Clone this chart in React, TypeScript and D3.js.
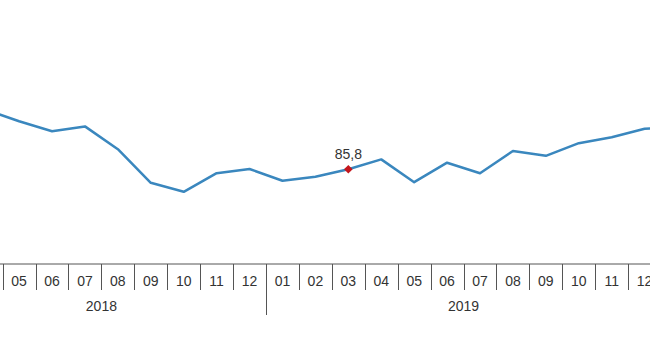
import { useEffect } from 'react';
import * as d3 from 'd3';

// month keys (year-month) and index values
const years = ['2018', '2019', '2020'];
const months = [
    '2018-03', '2018-04', '2018-05', '2018-06', '2018-07', '2018-08', '2018-09', '2018-10', '2018-11', '2018-12',
    '2019-01', '2019-02', '2019-03', '2019-04', '2019-05', '2019-06', '2019-07', '2019-08', '2019-09', '2019-10', '2019-11', '2019-12',
    '2020-01',
];
const values = [
    106.6, 105.6, 101.8, 98.5, 100.1, 92.5, 81.3, 78.3, 84.5, 85.9,
    82.0, 83.3, 85.8, 89.1, 81.5, 88.0, 84.5, 91.9, 90.3, 94.5, 96.5, 99.3,
    99.7,
];
const highlight = '2019-03';

const W = 650;
const H = 360;
const axisY = 264;
const font = '"Liberation Sans", Arial, sans-serif';

export default function App() {
    useEffect(() => {
        document.body.style.margin = '0';
    }, []);

    const x = d3.scaleBand<string>().domain(months).range([-63.2, 694]).paddingInner(0).paddingOuter(0);
    const y = d3.scaleLinear().domain([70, 110]).range([216.7, 96.7]);

    const data = months.map((m, i) => ({ m, v: values[i] }));
    const line = d3.line<{ m: string; v: number }>()
        .x(d => (x(d.m) || 0) + x.bandwidth() / 2)
        .y(d => y(d.v));

    const hi = data.find(d => d.m === highlight)!;
    const hx = (x(hi.m) || 0) + x.bandwidth() / 2;
    const hy = y(hi.v);
    const r = 4.3;

    const yearSpans = years.map(yr => {
        const ms = months.filter(m => m.startsWith(yr));
        const x0 = x(ms[0]) || 0;
        const x1 = (x(ms[ms.length - 1]) || 0) + x.bandwidth();
        return { yr, x0, x1 };
    });

    return (
        <svg width={W} height={H} style={{ display: 'block', background: '#fff' }} fontFamily={font}>
            <line x1={0} x2={W} y1={axisY} y2={axisY} stroke="#555" strokeWidth={1} />
            {months.map((m, i) => {
                const bx = Math.round(x(m) || 0) + 0.5;
                const isYear = m.endsWith('-01');
                return (
                    <g key={m}>
                        {i > 0 && (
                            <line x1={bx} x2={bx} y1={axisY} y2={isYear ? 315 : 290} stroke="#555" strokeWidth={1} />
                        )}
                        <text x={(x(m) || 0) + x.bandwidth() / 2} y={285.5} textAnchor="middle" fontSize={14} fill="#333">
                            {m.slice(5)}
                        </text>
                    </g>
                );
            })}
            {yearSpans.map(s => (
                <text key={s.yr} x={(s.x0 + s.x1) / 2} y={311} textAnchor="middle" fontSize={14} fill="#333">
                    {s.yr}
                </text>
            ))}
            <path d={line(data) || ''} fill="none" stroke="#3a87be" strokeWidth={2.5} strokeLinejoin="round" />
            <path d={`M${hx},${hy - r}L${hx + r},${hy}L${hx},${hy + r}L${hx - r},${hy}Z`} fill="#c4161c" />
            <text x={hx} y={hy - 10} textAnchor="middle" fontSize={14} fill="#333">
                {hi.v.toFixed(1).replace('.', ',')}
            </text>
        </svg>
    );
}
